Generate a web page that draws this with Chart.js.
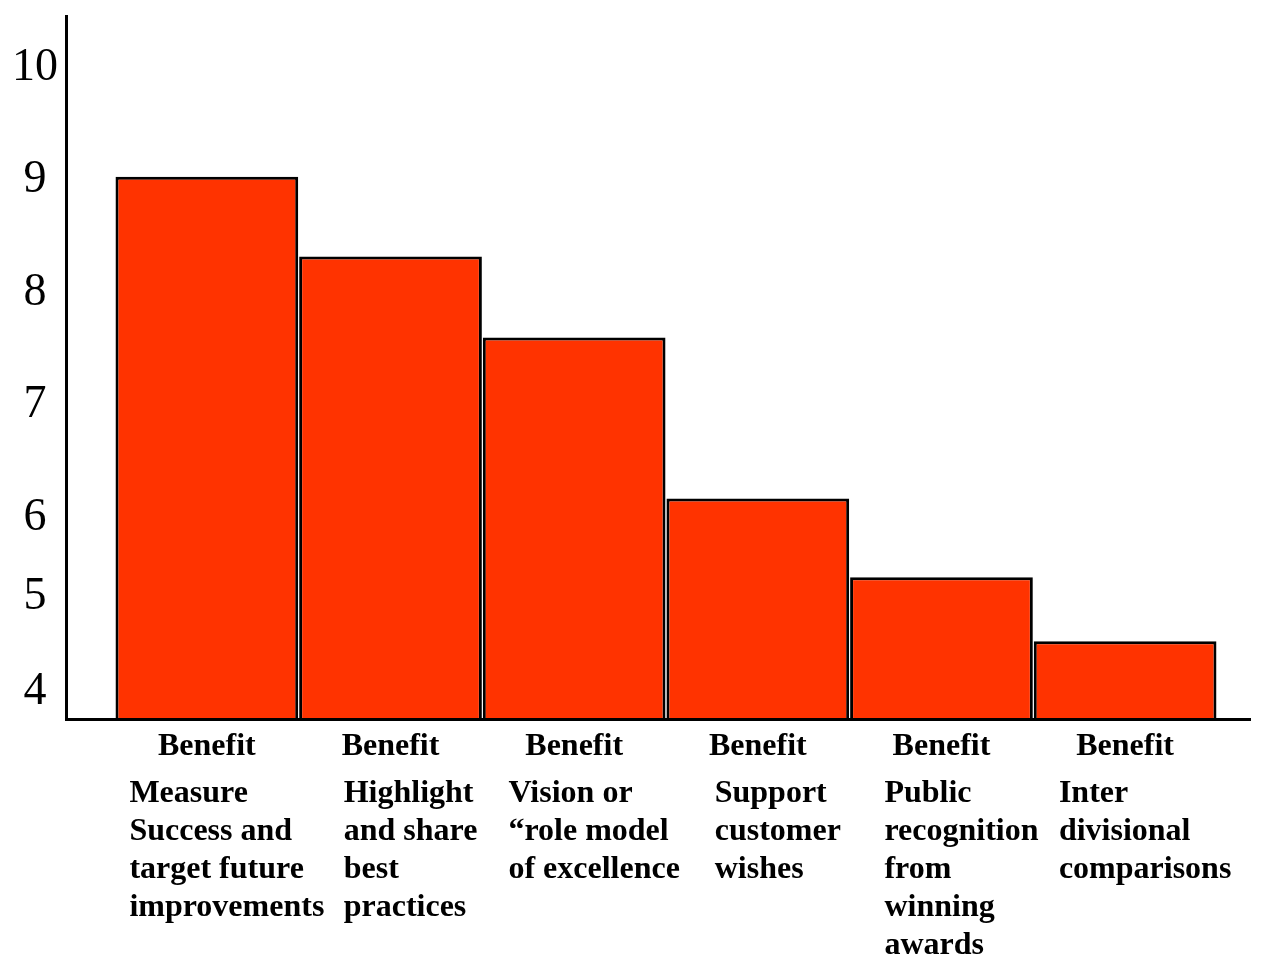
<!DOCTYPE html>
<html>
<head>
<meta charset="utf-8">
<script src="https://cdn.jsdelivr.net/npm/chart.js@4"></script>
<style>
  html, body { margin: 0; padding: 0; background: #fff; }
  #wrap { width: 1283px; height: 960px; position: relative; }
</style>
</head>
<body>
<div id="wrap"><canvas id="myChart"></canvas></div>
<script>
// データ
const categories = ["Benefit", "Benefit", "Benefit", "Benefit", "Benefit", "Benefit"];
const descriptions = [
  ["Measure", "Success and", "target future", "improvements"],
  ["Highlight", "and share", "best", "practices"],
  ["Vision or", "\u201crole model", "of excellence"],
  ["Support", "customer", "wishes"],
  ["Public", "recognition", "from", "winning", "awards"],
  ["Inter", "divisional", "comparisons"]
];
const values = [9.03, 8.32, 7.6, 6.17, 5.47, 4.9];
const yTickValues = [4.45, 5.29, 6, 7, 8, 9, 10];
const yTickLabels = ["4", "5", "6", "7", "8", "9", "10"];

const labelFont = 'bold 32px "Liberation Serif", "Times New Roman", serif';

// x軸の下にラベルを描く
const benefitLabels = {
  id: "benefitLabels",
  afterDraw(chart) {
    const ctx = chart.ctx;
    const xs = chart.scales.x;
    const base = chart.chartArea.bottom;
    ctx.save();
    ctx.font = labelFont;
    ctx.fillStyle = "#000";
    ctx.textBaseline = "alphabetic";
    categories.forEach((cat, i) => {
      const cx = xs.getPixelForValue(i);
      ctx.textAlign = "center";
      ctx.fillText(cat, cx, base + 36);
      const lines = descriptions[i];
      const w = Math.max(...lines.map(l => ctx.measureText(l).width));
      const left = cx - w / 2 + 20;
      ctx.textAlign = "left";
      lines.forEach((line, j) => {
        ctx.fillText(line, left, base + 83 + j * 38);
      });
    });
    ctx.restore();
  }
};

function noPadding(scale) {
  scale.paddingTop = 0;
  scale.paddingBottom = 0;
  scale.paddingLeft = 0;
  scale.paddingRight = 0;
}

window.onload = function() {
  const ctx = document.getElementById("myChart").getContext("2d");
  new Chart(ctx, {
    type: "bar",
    data: {
      datasets: [{
        data: values.map((v, i) => ({ x: i, y: v })),
        backgroundColor: "#ff3300",
        borderColor: "#000",
        borderWidth: 3,
        categoryPercentage: 1,
        barPercentage: 0.995
      }]
    },
    options: {
      responsive: true,
      maintainAspectRatio: false,
      animation: false,
      layout: { padding: { top: 16, right: 33, bottom: 241, left: 0 } },
      plugins: {
        legend: { display: false },
        tooltip: { enabled: false }
      },
      scales: {
        x: {
          type: "linear",
          offset: false,
          min: -0.767,
          max: 5.68,
          afterBuildTicks: scale => {
            scale.ticks = categories.map((c, i) => ({ value: i }));
          },
          afterFit: noPadding,
          grid: { display: false, drawTicks: false },
          ticks: { display: false },
          border: { display: true, color: "#000", width: 3, z: 1 }
        },
        y: {
          min: 4.209,
          max: 10.458,
          afterBuildTicks: scale => {
            scale.ticks = yTickValues.map(v => ({ value: v }));
          },
          afterFit: scale => { scale.width = 66; noPadding(scale); },
          grid: { display: false, drawTicks: false },
          border: { display: true, color: "#000", width: 3, z: 1 },
          ticks: {
            autoSkip: false,
            crossAlign: "center",
            padding: 8,
            color: "#000",
            font: { family: '"Liberation Serif", "Times New Roman", serif', size: 46 },
            callback: (value, index) => yTickLabels[index]
          }
        }
      }
    },
    plugins: [benefitLabels]
  });
};
</script>
</body>
</html>
